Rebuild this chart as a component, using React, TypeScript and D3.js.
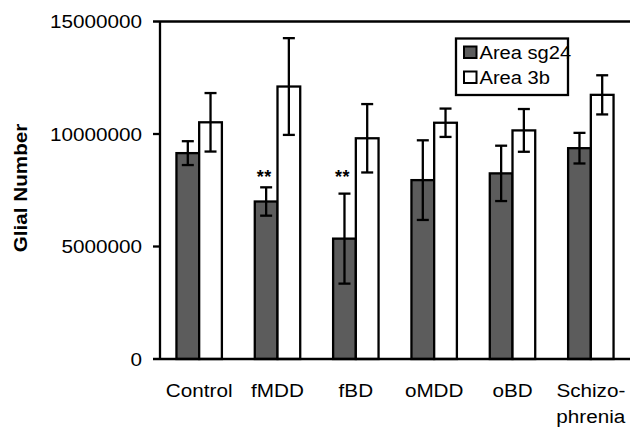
import React from "react";
import * as d3 from "d3";

const categories = ["Control", "fMDD", "fBD", "oMDD", "oBD", "Schizo-\nphrenia"];
const seriesNames = ["Area sg24", "Area 3b"];
const sg24Mean = [9150000, 7000000, 5350000, 7950000, 8250000, 9370000];
const sg24SD = [530000, 630000, 2000000, 1770000, 1230000, 680000];
const b3Mean = [10520000, 12110000, 9810000, 10500000, 10160000, 11740000];
const b3SD = [1300000, 2150000, 1520000, 630000, 950000, 870000];
const significant = [false, true, true, false, false, false];
const starLevel = 8000000;
const yTicks = [0, 5000000, 10000000, 15000000];

const W = 630;
const H = 430;
const left = 160;
const right = 630;
const yBottom = 359;
const yTop = 21.5;
const FONT = "'Liberation Sans', Arial, Helvetica, sans-serif";
const SX = 1.1;
const fills = ["#5c5c5c", "#ffffff"];

function SText({ x, y, anchor, size, weight, children, rotate }: any) {
  return (
    <g transform={`translate(${x},${y})${rotate ? ` rotate(${rotate})` : ""} scale(${SX},1)`}>
      <text
        x={0}
        y={0}
        textAnchor={anchor || "start"}
        fontFamily={FONT}
        fontSize={size || 18}
        fontWeight={weight || "normal"}
        fill="#000"
      >
        {children}
      </text>
    </g>
  );
}

export default function App() {
  const x = d3
    .scaleBand<string>()
    .domain(categories)
    .range([left, right])
    .paddingInner(0.42)
    .paddingOuter(0.21);
  const sub = d3.scaleBand<string>().domain(seriesNames).range([0, x.bandwidth()]);
  const y = d3.scaleLinear().domain([0, 15000000]).range([yBottom, yTop]);

  const means = [sg24Mean, b3Mean];
  const sds = [sg24SD, b3SD];
  const cap = 6;

  return (
    <svg
      width={W}
      height={H}
      style={{ position: "absolute", left: 0, top: 0, background: "#fff" }}
    >
      <rect x={0} y={0} width={W} height={H} fill="#fff" />
      {/* bars */}
      {categories.map((c, i) =>
        seriesNames.map((s, k) => {
          const bx = (x(c) as number) + (sub(s) as number);
          const v = means[k][i];
          return (
            <rect
              key={c + s}
              x={bx}
              y={y(v)}
              width={sub.bandwidth()}
              height={yBottom - y(v)}
              fill={fills[k]}
              stroke="#000"
              strokeWidth={2.3}
            />
          );
        })
      )}
      {/* error bars */}
      {categories.map((c, i) =>
        seriesNames.map((s, k) => {
          const cx = (x(c) as number) + (sub(s) as number) + sub.bandwidth() / 2;
          const v = means[k][i];
          const sd = sds[k][i];
          const y1 = y(v + sd);
          const y0 = y(v - sd);
          return (
            <g key={"e" + c + s} stroke="#000" strokeWidth={2.3}>
              <line x1={cx} x2={cx} y1={y1} y2={y0} />
              <line x1={cx - cap} x2={cx + cap} y1={y1} y2={y1} />
              <line x1={cx - cap} x2={cx + cap} y1={y0} y2={y0} />
            </g>
          );
        })
      )}
      {/* significance stars */}
      {categories.map((c, i) => {
        if (!significant[i]) return null;
        const cx = (x(c) as number) + (sub(seriesNames[0]) as number) + sub.bandwidth() / 2 - 2;
        return (
          <text
            key={"s" + c}
            x={cx}
            y={y(starLevel) + 4}
            textAnchor="middle"
            fontFamily={FONT}
            fontSize={18}
            fontWeight="bold"
            letterSpacing={0.5}
          >
            **
          </text>
        );
      })}
      {/* axes */}
      <line x1={left} x2={left} y1={y(15000000)} y2={yBottom} stroke="#000" strokeWidth={2.3} />
      {yTicks.map((t) => (
        <g key={t}>
          <line
            x1={left - 7}
            x2={t === 0 || t === 15000000 ? right : left}
            y1={y(t)}
            y2={y(t)}
            stroke="#000"
            strokeWidth={2.3}
          />
          <SText x={left - 18} y={y(t) + 6.8} anchor="end" size={18.8}>
            {String(t)}
          </SText>
        </g>
      ))}
      {/* x labels */}
      {categories.map((c) => {
        const cx = (x(c) as number) + x.bandwidth() / 2;
        const lines = c.split("\n");
        return lines.map((ln, j) => (
          <SText key={c + j} x={cx} y={397 + j * 26} anchor="middle" size={18.8}>
            {ln}
          </SText>
        ));
      })}
      {/* y label */}
      <SText x={27} y={188} anchor="middle" size={18.8} weight="bold" rotate={-90}>
        Glial Number
      </SText>
      {/* legend */}
      <rect x={456} y={38.5} width={112} height={56.5} fill="#fff" stroke="#000" strokeWidth={2.3} />
      {seriesNames.map((s, k) => (
        <g key={"l" + s}>
          <rect
            x={464}
            y={46.5 + k * 25}
            width={12.5}
            height={11.5}
            fill={fills[k]}
            stroke="#000"
            strokeWidth={2}
          />
          <SText x={479.5} y={58.5 + k * 25} size={18.3}>
            {s}
          </SText>
        </g>
      ))}
    </svg>
  );
}
